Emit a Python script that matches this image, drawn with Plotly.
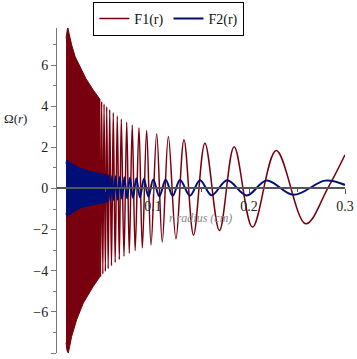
import plotly.graph_objects as go

# ---------------- data ----------------
# F1: dense region (r < 0.0445) drawn as its envelope band
f1_dense_upper_r = [0.0094, 0.0103, 0.0112, 0.0125, 0.0153, 0.0190, 0.0240, 0.0300, 0.0378, 0.0445]
f1_dense_upper_v = [7.30, 7.80, 7.86, 7.55, 6.97, 6.40, 5.95, 5.35, 4.78, 4.35]
f1_dense_lower_r = [0.0445, 0.0378, 0.0274, 0.0205, 0.0153, 0.0125, 0.0118, 0.0105, 0.0094]
f1_dense_lower_v = [-4.30, -4.76, -5.57, -6.38, -7.19, -7.80, -8.00, -7.90, -7.50]

# F1: resolvable oscillations (extrema, zero crossing, end point)
f1_r = [0.04425, 0.04535, 0.04651, 0.04773, 0.04902, 0.05038, 0.05179, 0.05330,
        0.05491, 0.05675, 0.05862, 0.06061, 0.06281, 0.06489, 0.06698, 0.06978,
        0.07262, 0.07530, 0.07837, 0.08143, 0.08540, 0.08889, 0.09337, 0.09794,
        0.10384, 0.10965, 0.11601, 0.12392, 0.13228, 0.14225, 0.15408, 0.16920,
        0.18450, 0.20367, 0.22831, 0.25907, 0.28200, 0.30000]
f1_v = [4.35, -4.30, 4.22, -4.16, 4.10, -4.03, 3.97, -3.90,
        3.83, -3.76, 3.68, -3.60, 3.52, -3.45, 3.38, -3.30,
        3.22, -3.15, 3.09, -3.02, 2.95, -2.89, 2.82, -2.75,
        2.66, -2.60, 2.53, -2.45, 2.37, -2.27, 2.20, -2.05,
        2.03, -1.88, 1.84, -1.72, 0.00, 1.63]

# F2: dense region band
f2_dense_upper_r = [0.0094, 0.0100, 0.0140, 0.0200, 0.0270, 0.0350, 0.0450, 0.0525]
f2_dense_upper_v = [1.20, 1.38, 1.25, 1.08, 0.93, 0.82, 0.72, 0.65]
f2_dense_lower_r = [0.0525, 0.0450, 0.0350, 0.0270, 0.0200, 0.0140, 0.0100, 0.0094]
f2_dense_lower_v = [-0.65, -0.72, -0.82, -0.90, -1.05, -1.25, -1.36, -1.20]

# F2: resolvable oscillations
f2_r = [0.05252, 0.05405, 0.05565, 0.05734, 0.05917, 0.06109, 0.06313, 0.06536,
        0.06770, 0.07022, 0.07299, 0.07593, 0.07911, 0.08264, 0.08643, 0.09058,
        0.09524, 0.10030, 0.10661, 0.11325, 0.12048, 0.12821, 0.13850, 0.14903,
        0.16103, 0.17730, 0.19763, 0.21834, 0.24630, 0.27933, 0.30000]
f2_v = [-0.63, 0.64, -0.60, 0.61, -0.57, 0.59, -0.54, 0.56,
        -0.51, 0.54, -0.48, 0.52, -0.45, 0.50, -0.43, 0.47,
        -0.40, 0.44, -0.38, 0.42, -0.36, 0.41, -0.35, 0.40,
        -0.33, 0.40, -0.34, 0.39, -0.31, 0.38, 0.17]

x_tick_vals = [0.1, 0.2, 0.3]
x_tick_text = ["0.1", "0.2", "0.3"]
x_minor_vals = [0.05, 0.15, 0.25]
y_tick_vals = [-8, -6, -4, -2, 0, 2, 4, 6]
y_minor_vals = [-7, -5, -3, -1, 1, 3, 5, 7]

RED = "#78000E"
BLUE = "#000E78"
SERIF = "Liberation Serif"

fig = go.Figure()

fig.add_trace(go.Scatter(
    x=f1_dense_upper_r + f1_dense_lower_r,
    y=f1_dense_upper_v + f1_dense_lower_v,
    fill="toself", fillcolor=RED, mode="lines",
    line=dict(color=RED, width=1), showlegend=False, hoverinfo="skip"))
fig.add_trace(go.Scatter(
    x=f1_r, y=f1_v, mode="lines", name="F1(r)",
    line=dict(color=RED, width=1.5, shape="spline", smoothing=1.0)))

fig.add_trace(go.Scatter(
    x=f2_dense_upper_r + f2_dense_lower_r,
    y=f2_dense_upper_v + f2_dense_lower_v,
    fill="toself", fillcolor=BLUE, mode="lines",
    line=dict(color=BLUE, width=1), showlegend=False, hoverinfo="skip"))
fig.add_trace(go.Scatter(
    x=f2_r, y=f2_v, mode="lines", name="F2(r)",
    line=dict(color=BLUE, width=2, shape="spline", smoothing=1.0)))

y_min, y_max = -8.0, 7.8

fig.update_layout(
    width=357, height=359,
    margin=dict(l=57, r=12, t=28, b=6, autoexpand=False),
    paper_bgcolor="white", plot_bgcolor="white",
    font=dict(family=SERIF, size=14, color="#222"),
    showlegend=True,
    legend=dict(orientation="h", xref="container", yref="container",
                x=0.473, xanchor="center", y=0.995, yanchor="top",
                bordercolor="black", borderwidth=1, bgcolor="white",
                font=dict(family=SERIF, size=14, color="#111"),
                itemwidth=30, tracegroupgap=0),
    xaxis=dict(range=[0, 0.3], anchor="free", position=(0 - y_min) / (y_max - y_min),
               showline=True, linecolor="#555", linewidth=1.5,
               ticks="outside", ticklen=5, tickcolor="#555",
               tickmode="array", tickvals=x_tick_vals, ticktext=x_tick_text,
               minor=dict(tickmode="array", tickvals=x_minor_vals, ticks="outside",
                          ticklen=3, tickcolor="#555"),
               showgrid=False, zeroline=False,
               tickfont=dict(family=SERIF, size=14, color="#222")),
    yaxis=dict(range=[y_min, y_max],
               showline=True, linecolor="#777", linewidth=1,
               ticks="outside", ticklen=5, tickcolor="#777",
               tickmode="array", tickvals=y_tick_vals,
               minor=dict(tickmode="array", tickvals=y_minor_vals, ticks="outside",
                          ticklen=3, tickcolor="#777"),
               showgrid=False, zeroline=False,
               tickfont=dict(family=SERIF, size=14, color="#222")),
    annotations=[
        dict(text="Ω(<i>r</i>)", xref="paper", yref="paper",
             x=-0.191, xanchor="left", y=0.751, showarrow=False,
             font=dict(family=SERIF, size=13, color="#222")),
        dict(text="<i>r radius (cm)</i>", xref="paper", yref="paper",
             x=0.497, y=0.415, showarrow=False,
             font=dict(family=SERIF, size=12, color="#888")),
    ],
)

fig.write_html("out.html")
